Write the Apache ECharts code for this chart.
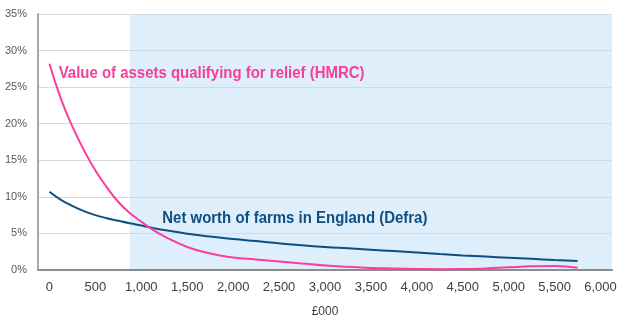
<!DOCTYPE html>
<html>
<head>
<meta charset="utf-8">
<script src="https://cdn.jsdelivr.net/npm/echarts@6/dist/echarts.min.js"></script>
<style>html,body{margin:0;padding:0;background:#fff}#c{width:624px;height:323px}</style>
</head>
<body>
<div id="c"></div>
<script>
// £000 values (x)
var xValues = [0,125,250,375,500,625,750,875,1000,1125,1250,1500,1750,2000,2250,2500,2750,3000,3250,3500,3750,4000,4250,4500,4750,5000,5250,5500,5750];
// Value of assets qualifying for relief (HMRC), %
var hmrcValues = [28.2,23.4,19.6,16.4,13.6,11.3,9.3,7.8,6.6,5.5,4.6,3.15,2.25,1.72,1.45,1.17,0.88,0.61,0.43,0.29,0.21,0.14,0.10,0.12,0.22,0.37,0.50,0.55,0.32];
// Net worth of farms in England (Defra), %
var defraValues = [10.7,9.6,8.75,8.05,7.5,7.08,6.72,6.38,6.08,5.76,5.46,4.97,4.57,4.24,3.95,3.65,3.38,3.15,2.96,2.77,2.59,2.4,2.18,1.99,1.83,1.68,1.53,1.37,1.23];
var xTicks = [0,500,1000,1500,2000,2500,3000,3500,4000,4500,5000,5500,6000];
var shadeStart = 875;
var hmrcLabel = 'Value of assets qualifying for relief (HMRC)';
var defraLabel = 'Net worth of farms in England (Defra)';
var hmrcLabelAt = [100, 26.9];
var defraLabelAt = [1228, 6.97];

var pink = '#fa3d9c', navy = '#0f4f80';
function pairs(xs, ys){ return xs.map(function(x,i){ return [x, ys[i]]; }); }
var baseFont = 'Liberation Sans, Arial, sans-serif';

var chart = echarts.init(document.getElementById('c'));
chart.setOption({
  animation: false,
  grid: {left: 38, right: 12, top: 14, bottom: 53, containLabel: false},
  xAxis: {
    type: 'value', min: -125, max: 6125,
    name: '£000', nameLocation: 'middle', nameGap: 36,
    nameTextStyle: {color: '#404040', fontSize: 12, fontFamily: baseFont},
    axisLine: {show: true, onZero: false, lineStyle: {color: '#8c8c8c', width: 2}},
    axisTick: {show: false},
    splitLine: {show: false},
    axisLabel: {
      customValues: xTicks, margin: 11, color: '#404040', fontSize: 13, fontFamily: baseFont,
      formatter: function(v){ return v.toLocaleString('en-GB'); }
    }
  },
  yAxis: {
    type: 'value', min: 0, max: 35, interval: 5,
    axisLine: {show: true, onZero: false, lineStyle: {color: '#8c8c8c', width: 1.5}},
    axisTick: {show: false},
    splitLine: {show: true, lineStyle: {color: '#d9d9d9', width: 1}},
    axisLabel: {margin: 11, color: '#595959', fontSize: 11, fontFamily: baseFont, formatter: '{value}%'}
  },
  series: [
    {
      type: 'line', name: 'Defra', data: pairs(xValues, defraValues),
      smooth: true, showSymbol: false, symbol: 'none', z: 3,
      lineStyle: {color: navy, width: 2},
      markArea: {
        silent: true, z: 0,
        itemStyle: {color: 'rgba(189,221,247,0.5)'},
        data: [[{coord: [shadeStart, 0]}, {coord: [6125, 35]}]]
      }
    },
    {
      type: 'line', name: 'HMRC', data: pairs(xValues, hmrcValues),
      smooth: true, showSymbol: false, symbol: 'none', z: 4,
      lineStyle: {color: pink, width: 2}
    }
  ]
});

function ann(text, at, color){
  var p = chart.convertToPixel({gridIndex: 0}, at);
  return {
    type: 'text', x: p[0], y: p[1], scaleX: 0.935, z: 10, silent: true,
    style: {text: text, fill: color, fontSize: 16, fontWeight: 'bold', fontFamily: baseFont,
      align: 'left', verticalAlign: 'middle'}
  };
}
chart.setOption({graphic: [ann(hmrcLabel, hmrcLabelAt, pink), ann(defraLabel, defraLabelAt, navy)]});
</script>
</body>
</html>
